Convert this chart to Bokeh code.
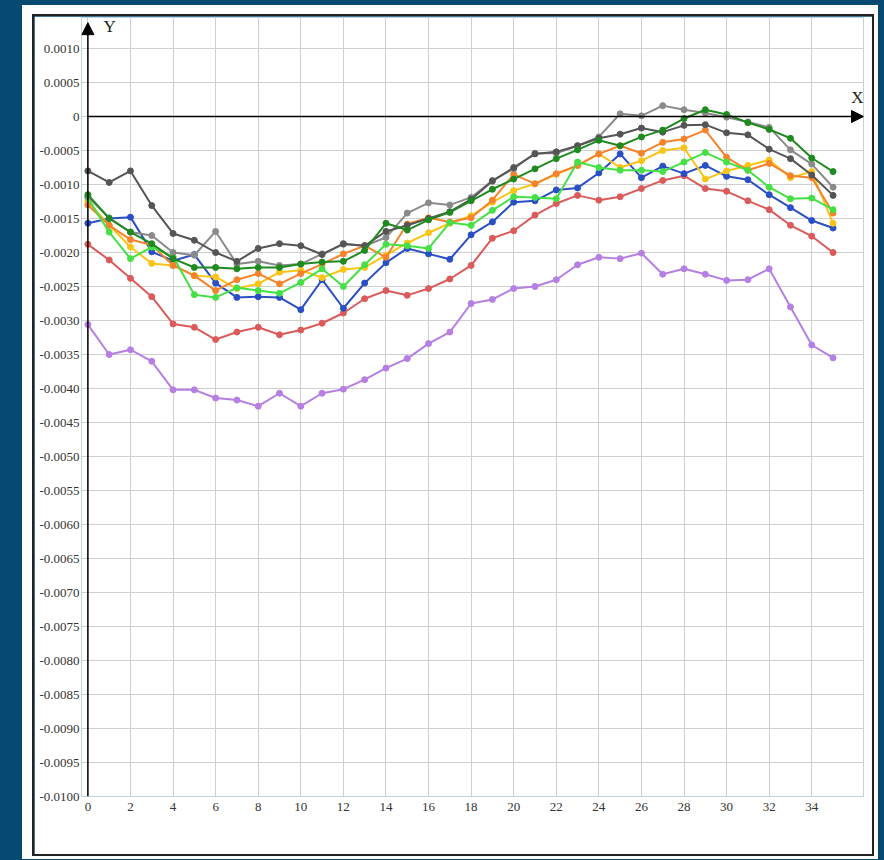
from bokeh.plotting import figure
from bokeh.models import Range1d, FixedTicker, Arrow, NormalHead, Label, Spacer
from bokeh.layouts import row, column
from bokeh.embed import file_html
from bokeh.resources import INLINE

# ---------------- data ----------------
x_vals = list(range(36))

dark_gray = [-0.00080, -0.00097, -0.00080, -0.00131, -0.00172, -0.00182, -0.00200, -0.00213,
             -0.00194, -0.00187, -0.00190, -0.00203, -0.00187, -0.00190, -0.00169, -0.00160,
             -0.00150, -0.00140, -0.00122, -0.00095, -0.00075, -0.00055, -0.00052, -0.00043,
             -0.00032, -0.00026, -0.00017, -0.00023, -0.00013, -0.00012, -0.00024, -0.00027,
             -0.00048, -0.00062, -0.00086, -0.00116]
gray = [-0.00118, -0.00149, -0.00170, -0.00175, -0.00200, -0.00204, -0.00169, -0.00217,
        -0.00213, -0.00219, -0.00217, -0.00202, -0.00188, -0.00190, -0.00178, -0.00142,
        -0.00127, -0.00130, -0.00119, -0.00094, -0.00077, -0.00054, -0.00054, -0.00043,
        -0.00030, 0.00004, 0.00001, 0.00016, 0.00010, 0.00005, -0.00001, -0.00008,
        -0.00016, -0.00049, -0.00070, -0.00104]
dark_green = [-0.00115, -0.00150, -0.00170, -0.00187, -0.00209, -0.00222, -0.00222, -0.00224,
              -0.00222, -0.00222, -0.00217, -0.00214, -0.00213, -0.00197, -0.00157, -0.00167,
              -0.00152, -0.00141, -0.00124, -0.00107, -0.00092, -0.00077, -0.00062, -0.00049,
              -0.00035, -0.00043, -0.00030, -0.00020, -0.00003, 0.00010, 0.00003, -0.00009,
              -0.00019, -0.00032, -0.00061, -0.00081]
green = [-0.00120, -0.00170, -0.00209, -0.00192, -0.00206, -0.00262, -0.00266, -0.00252,
         -0.00256, -0.00260, -0.00244, -0.00224, -0.00250, -0.00218, -0.00188, -0.00190,
         -0.00194, -0.00156, -0.00160, -0.00138, -0.00118, -0.00119, -0.00121, -0.00067,
         -0.00075, -0.00079, -0.00079, -0.00081, -0.00067, -0.00053, -0.00067, -0.00079,
         -0.00104, -0.00121, -0.00120, -0.00137]
orange = [-0.00130, -0.00160, -0.00181, -0.00189, -0.00219, -0.00234, -0.00256, -0.00240,
          -0.00231, -0.00246, -0.00231, -0.00217, -0.00202, -0.00190, -0.00207, -0.00158,
          -0.00149, -0.00155, -0.00149, -0.00123, -0.00085, -0.00099, -0.00084, -0.00072,
          -0.00055, -0.00043, -0.00054, -0.00038, -0.00033, -0.00020, -0.00060, -0.00079,
          -0.00069, -0.00087, -0.00090, -0.00142]
yellow = [-0.00125, -0.00160, -0.00192, -0.00216, -0.00219, -0.00234, -0.00236, -0.00253,
          -0.00246, -0.00229, -0.00226, -0.00237, -0.00225, -0.00222, -0.00204, -0.00186,
          -0.00171, -0.00157, -0.00146, -0.00126, -0.00109, -0.00099, -0.00085, -0.00072,
          -0.00055, -0.00075, -0.00065, -0.00050, -0.00046, -0.00092, -0.00080, -0.00072,
          -0.00064, -0.00090, -0.00081, -0.00157]
blue = [-0.00157, -0.00150, -0.00148, -0.00199, -0.00212, -0.00203, -0.00245, -0.00266,
        -0.00265, -0.00266, -0.00284, -0.00240, -0.00282, -0.00245, -0.00215, -0.00194,
        -0.00202, -0.00210, -0.00174, -0.00155, -0.00126, -0.00124, -0.00108, -0.00105,
        -0.00083, -0.00055, -0.00090, -0.00073, -0.00084, -0.00072, -0.00088, -0.00093,
        -0.00115, -0.00134, -0.00153, -0.00164]
red = [-0.00188, -0.00211, -0.00238, -0.00265, -0.00305, -0.00310, -0.00328, -0.00317,
       -0.00310, -0.00321, -0.00314, -0.00304, -0.00289, -0.00268, -0.00256, -0.00263,
       -0.00253, -0.00239, -0.00219, -0.00179, -0.00168, -0.00145, -0.00128, -0.00116,
       -0.00123, -0.00118, -0.00106, -0.00094, -0.00087, -0.00106, -0.00110, -0.00124,
       -0.00137, -0.00160, -0.00176, -0.00200]
purple = [-0.00306, -0.00350, -0.00343, -0.00360, -0.00402, -0.00402, -0.00414, -0.00417,
          -0.00426, -0.00407, -0.00426, -0.00407, -0.00401, -0.00387, -0.00370, -0.00356,
          -0.00334, -0.00317, -0.00275, -0.00269, -0.00253, -0.00250, -0.00240, -0.00218,
          -0.00207, -0.00209, -0.00201, -0.00232, -0.00224, -0.00232, -0.00241, -0.00240,
          -0.00224, -0.00280, -0.00336, -0.00355]

x_ticks = list(range(0, 36, 2))
y_ticks = [round(-0.0100 + 0.0005 * i, 4) for i in range(23)]

series = [
    (purple, "#b67fe3"),
    (red, "#db5b5b"),
    (blue, "#2a4fc4"),
    (yellow, "#f9c416"),
    (orange, "#f5832c"),
    (green, "#45e045"),
    (gray, "#8a8a8a"),
    (dark_gray, "#555555"),
    (dark_green, "#1f8a1f"),
]

# ---------------- figure ----------------
BG = "#064a72"
BORDER = "#222222"
SERIF = "Liberation Serif"
X_START = -0.3
X_END = 36.43
Y_TOP = 0.001456
ARROW_Y = 0.00138

p = figure(width=838, height=838, frame_width=782, frame_height=779,
           min_border_left=47, min_border_right=9, min_border_top=1, min_border_bottom=58,
           x_range=Range1d(X_START, X_END), y_range=Range1d(-0.0100, Y_TOP),
           output_backend="svg", toolbar_location=None,
           background_fill_color="white", border_fill_color="white",
           outline_line_color=None)

# grid
p.xgrid.ticker = FixedTicker(ticks=x_ticks)
p.ygrid.ticker = FixedTicker(ticks=y_ticks)
p.xgrid.bounds = (-0.0100, 0.0010)
p.ygrid.bounds = (0, 35)
for g in (p.xgrid, p.ygrid):
    g.grid_line_color = "#cfcfcf"
    g.grid_line_width = 1

# axes (labels only; axis lines drawn as arrows at x=0 / y=0)
p.xaxis.ticker = FixedTicker(ticks=x_ticks)
p.xaxis.major_label_standoff = 6
p.yaxis.ticker = FixedTicker(ticks=y_ticks)
p.yaxis.formatter.use_scientific = False
p.yaxis.major_label_overrides = {t: ("0" if abs(t) < 1e-12 else f"{t:.4f}") for t in y_ticks}
p.yaxis.major_label_standoff = 2

for ax in (p.xaxis, p.yaxis):
    ax.axis_line_color = None
    ax.major_tick_line_color = None
    ax.minor_tick_line_color = None
    ax.major_tick_out = 0
    ax.major_tick_in = 0
    ax.minor_tick_out = 0
    ax.minor_tick_in = 0
    ax.major_label_text_font = SERIF
    ax.major_label_text_font_size = "13px"
    ax.major_label_text_color = "#333333"

# X axis at zero and Y axis at x=0, both with arrow heads
p.add_layout(Arrow(end=NormalHead(size=12, fill_color="black", line_color="black"),
                   x_start=0, y_start=0, x_end=X_END, y_end=0,
                   line_color="black", line_width=1.5))
p.add_layout(Arrow(end=NormalHead(size=12, fill_color="black", line_color="black"),
                   x_start=0, y_start=-0.0100, x_end=0, y_end=ARROW_Y,
                   line_color="black", line_width=1.5))

p.add_layout(Label(x=0.73, y=0.00132, text="Y", text_font=SERIF, text_font_size="17px",
                   text_color="#222222", text_baseline="middle"))
p.add_layout(Label(x=35.85, y=0.00028, text="X", text_font=SERIF, text_font_size="17px",
                   text_color="#222222", text_baseline="middle"))

# series
for ys, col in series:
    p.line(x_vals, ys, line_color=col, line_width=2)
    p.scatter(x_vals, ys, size=6, fill_color=col, line_color=col)


def box(w, h, color):
    return Spacer(width=w, height=h, styles={"background-color": color})


panel = column(
    box(856, 9, "white"),
    row(box(10, 2, "white"), box(842, 2, BORDER), box(4, 2, "white")),
    row(box(10, 838, "white"), box(2, 838, BORDER), p, box(2, 838, BORDER), box(4, 838, "white")),
    row(box(10, 2, "white"), box(842, 2, BORDER), box(4, 2, "white")),
    box(856, 3, "white"),
)
layout = column(Spacer(width=10, height=5), row(Spacer(width=22, height=10), panel))

html = file_html(layout, INLINE)
html = html.replace("</head>", "<style>html,body{background-color:%s;}</style></head>" % BG, 1)
open("out.html", "w").write(html)
